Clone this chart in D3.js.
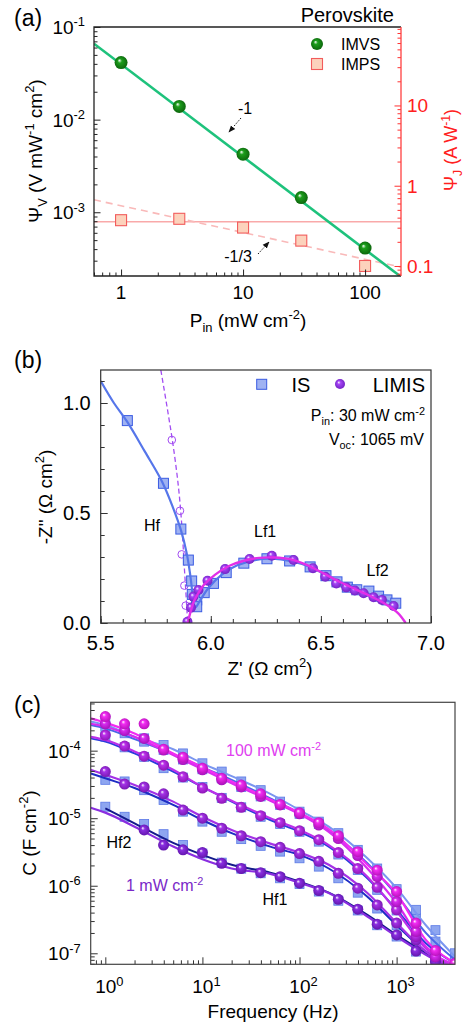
<!DOCTYPE html>
<html>
<head>
<meta charset="utf-8">
<script src="https://cdn.jsdelivr.net/npm/d3@7"></script>
<style>
  body { margin: 0; background: #fff; }
  svg text { font-family: "Liberation Sans", Arial, sans-serif; }
</style>
</head>
<body>
<svg id="fig" width="465" height="1028"></svg>
<script>
// ---------- panel (a) data ----------
const pinA = [1, 3, 10, 30, 100];
const imvsA = [0.0413, 0.0139, 0.00424, 0.00144, 0.00041];
const impsA = [0.372, 0.387, 0.301, 0.207, 0.100];
const imvsFitX = [0.6, 197];
const imvsFitY = [0.066, 0.000201];
const impsFlatX = [0.6, 197];
const impsFlatY = [0.355, 0.355];
const impsDashX = [0.6, 197];
const impsDashY = [0.668, 0.0967];

// ---------- panel (b) data ----------
const isZr = [5.621, 5.785, 5.864, 5.898, 5.913, 5.916, 5.936, 5.936, 5.97, 6.012, 6.07, 6.150, 6.255, 6.358, 6.451, 6.523, 6.573, 6.62, 6.663, 6.718, 6.762, 6.80, 6.84];
const isZi = [0.920, 0.635, 0.427, 0.286, 0.191, 0.130, 0.105, 0.074, 0.138, 0.18, 0.229, 0.272, 0.292, 0.282, 0.255, 0.215, 0.187, 0.163, 0.151, 0.145, 0.122, 0.105, 0.09];
const limisZr = [5.894, 5.91, 5.921, 5.944, 5.985, 6.065, 6.176, 6.277, 6.376, 6.464, 6.52, 6.57, 6.615, 6.654, 6.694, 6.739, 6.777, 6.83];
const limisZi = [0.006, 0.07, 0.12, 0.15, 0.192, 0.245, 0.291, 0.306, 0.286, 0.249, 0.21, 0.18, 0.162, 0.148, 0.135, 0.117, 0.105, 0.077];
const hfZr = [5.823, 5.86, 5.868, 5.88, 5.886, 5.894];
const hfZi = [0.832, 0.51, 0.312, 0.17, 0.079, 0.006];
const hfFitZr = [5.773, 5.80, 5.83, 5.855, 5.87, 5.88, 5.888, 5.895];
const hfFitZi = [1.15, 0.99, 0.80, 0.60, 0.42, 0.25, 0.12, 0.0];
const isFitZr = [5.5, 5.56, 5.62, 5.70, 5.78, 5.83, 5.865, 5.89, 5.905, 5.915, 5.922, 5.93, 5.95, 5.99, 6.05, 6.12, 6.2, 6.28, 6.36, 6.45, 6.53, 6.62, 6.7, 6.78, 6.84];
const isFitZi = [1.10, 1.0, 0.915, 0.78, 0.64, 0.52, 0.42, 0.32, 0.23, 0.15, 0.09, 0.07, 0.1, 0.16, 0.22, 0.262, 0.286, 0.292, 0.282, 0.255, 0.215, 0.17, 0.14, 0.11, 0.085];
const limisFitZr = [5.895, 5.905, 5.92, 5.94, 5.97, 6.02, 6.08, 6.15, 6.22, 6.29, 6.36, 6.43, 6.5, 6.58, 6.66, 6.74, 6.8, 6.85, 6.885];
const limisFitZi = [0.0, 0.04, 0.09, 0.13, 0.175, 0.22, 0.258, 0.283, 0.296, 0.298, 0.29, 0.266, 0.232, 0.19, 0.152, 0.115, 0.082, 0.045, 0.0];

// ---------- panel (c) data ----------
const freqC = [1, 1.58, 2.51, 3.98, 6.31, 10, 15.8, 25.1, 39.8, 63.1, 100, 158, 251, 398, 631, 1000, 1585, 2512, 3981];
const intensities = ['1', '3', '10', '30', '100'];
// LIMIS (spheres), F cm-2
const limis1 = [null, null, 6.7e-6, 4.0e-6, 3.4e-6, 3.1e-6, 2.15e-6, 1.8e-6, 1.56e-6, 1.36e-6, 1.09e-6, 8.5e-7, 6.3e-7, 4.5e-7, 2.7e-7, 1.87e-7, 1.08e-7, 7.5e-8, null];
const limis3 = [4.9e-5, 3.2e-5, 2.9e-5, 2.3e-5, 1.32e-5, 1.0e-5, 7.1e-6, 5.5e-6, 4.5e-6, 3.7e-6, 3.0e-6, 2.3e-6, 1.53e-6, 9.2e-7, 5.2e-7, 2.8e-7, 1.57e-7, 8.9e-8, 6.0e-8];
const limis10 = [1.7e-4, 1.17e-4, 8.3e-5, 6.1e-5, 4.1e-5, 2.8e-5, 1.97e-5, 1.45e-5, 1.09e-5, 8.6e-6, 6.5e-6, 4.8e-6, 3.1e-6, 1.8e-6, 9.5e-7, 4.4e-7, 1.77e-7, 8.9e-8, 5.7e-8];
const limis30 = [2.5e-4, 1.98e-4, 1.52e-4, 1.02e-4, 7.4e-5, 5.2e-5, 3.7e-5, 2.9e-5, 2.1e-5, 1.57e-5, 1.16e-5, 7.9e-6, 5.0e-6, 2.8e-6, 1.36e-6, 5.8e-7, 2.1e-7, 8.9e-8, 6.4e-8];
const limis100 = [3.2e-4, 2.5e-4, 2.5e-4, 1.05e-4, 8.0e-5, 5.5e-5, 3.9e-5, 3.1e-5, 2.3e-5, 1.6e-5, 1.2e-5, 8.6e-6, 5.5e-6, 3.2e-6, 1.7e-6, 8.2e-7, 2.8e-7, 1.1e-7, 7.1e-8];
// IS (squares), F cm-2
const is1 = [1.48e-5, 1.05e-5, 8.2e-6, 5.8e-6, 4.0e-6, 3.0e-6, 2.2e-6, 1.79e-6, 1.53e-6, 1.29e-6, 1.06e-6, 8.2e-7, 6.0e-7, 4.3e-7, 2.6e-7, 1.77e-7, 1.06e-7, 7.8e-8, 6.0e-8];
const is3 = [3.7e-5, 3.5e-5, 2.6e-5, 1.86e-5, 1.25e-5, 8.9e-6, 6.3e-6, 4.9e-6, 3.9e-6, 3.2e-6, 2.55e-6, 1.92e-6, 1.29e-6, 7.9e-7, 4.6e-7, 2.6e-7, 1.49e-7, 8.9e-8, 6.4e-8];
const is10 = [1.61e-4, 1.12e-4, 8.1e-5, 5.5e-5, 4.0e-5, 2.9e-5, 2.0e-5, 1.45e-5, 1.05e-5, 8.2e-6, 6.3e-6, 4.5e-6, 2.9e-6, 1.71e-6, 8.7e-7, 4.3e-7, 2.0e-7, 1.0e-7, 7.1e-8];
const is30 = [2.27e-4, 1.81e-4, 1.36e-4, 1.02e-4, 7.4e-5, 5.3e-5, 3.9e-5, 2.9e-5, 2.1e-5, 1.57e-5, 1.16e-5, 8.2e-6, 5.3e-6, 3.0e-6, 1.53e-6, 7.3e-7, 3.3e-7, 1.49e-7, 8.0e-8];
const is100 = [2.85e-4, 2.27e-4, 1.52e-4, 1.21e-4, 9.1e-5, 6.5e-5, 4.9e-5, 3.5e-5, 2.6e-5, 1.76e-5, 1.25e-5, 8.9e-6, 6.0e-6, 3.4e-6, 1.8e-6, 8.9e-7, 4.4e-7, 2.2e-7, 1.0e-7];
// fit curves
const fitF = [0.707, 1, 2, 5, 10, 20, 50, 100, 200, 500, 1000, 2000, 4000];
const limisFit1 = [1.43e-5, 1.21e-5, 7.5e-6, 3.8e-6, 2.47e-6, 1.8e-6, 1.5e-6, 1.11e-6, 7.8e-7, 3.5e-7, 1.77e-7, 9.5e-8, 5.7e-8];
const limisFit3 = [5.2e-5, 4.4e-5, 3.1e-5, 1.76e-5, 1.05e-5, 6.7e-6, 4.2e-6, 3.1e-6, 2.04e-6, 7.8e-7, 2.8e-7, 1.06e-7, 6.0e-8];
const limisFit10 = [1.6e-4, 1.44e-4, 9.7e-5, 5.2e-5, 2.9e-5, 1.82e-5, 1.0e-5, 6.7e-6, 4.0e-6, 1.36e-6, 4.2e-7, 1.18e-7, 6.3e-8];
const limisFit30 = [2.5e-4, 2.26e-4, 1.6e-4, 8.6e-5, 5.3e-5, 3.3e-5, 1.82e-5, 1.15e-5, 6.3e-6, 1.8e-6, 5.5e-7, 1.26e-7, 6.7e-8];
const limisFit100 = [3.0e-4, 2.6e-4, 1.8e-4, 9.1e-5, 5.7e-5, 3.5e-5, 1.9e-5, 1.2e-5, 6.9e-6, 2.05e-6, 7.6e-7, 1.58e-7, 7.1e-8];
const isFit1 = [null, 1.4e-5, 8.4e-6, 4.3e-6, 2.86e-6, 2.04e-6, 1.56e-6, 1.15e-6, 7.9e-7, 3.7e-7, 1.87e-7, 1.0e-7, 6.0e-8];
const isFit3 = [4.6e-5, 3.9e-5, 2.8e-5, 1.57e-5, 9.4e-6, 6.0e-6, 3.8e-6, 2.86e-6, 1.8e-6, 6.9e-7, 2.6e-7, 1.06e-7, 6.3e-8];
const isFit10 = [1.52e-4, 1.36e-4, 9.1e-5, 4.9e-5, 2.9e-5, 1.76e-5, 9.4e-6, 6.3e-6, 3.8e-6, 1.29e-6, 4.4e-7, 1.41e-7, 7.1e-8];
const isFit30 = [2.4e-4, 2.14e-4, 1.48e-4, 8.9e-5, 5.7e-5, 3.7e-5, 1.97e-5, 1.18e-5, 6.5e-6, 2.15e-6, 7.3e-7, 2.0e-7, 8.0e-8];
const isFit100 = [2.7e-4, 2.4e-4, 1.6e-4, 1.05e-4, 6.5e-5, 4.2e-5, 2.3e-5, 1.32e-5, 7.5e-6, 2.55e-6, 9.2e-7, 2.6e-7, 8.9e-8];

const limisC = [limis1, limis3, limis10, limis30, limis100];
const isC = [is1, is3, is10, is30, is100];
const limisFitC = [limisFit1, limisFit3, limisFit10, limisFit30, limisFit100];
const isFitC = [isFit1, isFit3, isFit10, isFit30, isFit100];

// colours per intensity (1 -> 100 mW cm-2)
const limisColors = ['#8a2ee0', '#a432e6', '#bb30ea', '#d82cf0', '#f22cf2'];
const limisDark = ['#5e14a8', '#7416ac', '#8814b0', '#a010b4', '#b410b8'];
const isLineColors = ['#141a8c', '#1e2cc4', '#2a3ddc', '#4a66e8', '#7a96f0'];

const svg = d3.select('#fig');
const defs = svg.append('defs');

// ---------- helpers ----------
function rich(parent, x, y, parts, fs, anchor, fill, rotate) {
    const t = parent.append('text')
        .attr('font-size', fs)
        .attr('text-anchor', anchor || 'start')
        .attr('fill', fill || '#000');
    if (rotate) t.attr('transform', `translate(${x},${y}) rotate(${rotate})`);
    else t.attr('x', x).attr('y', y);
    let shift = 0;
    parts.forEach(p => {
        const txt = typeof p === 'string' ? p : p[0];
        const kind = typeof p === 'string' ? 'n' : p[1];
        const target = kind === 'sup' ? -fs * 0.4 : kind === 'sub' ? fs * 0.25 : 0;
        const ts = t.append('tspan').attr('dy', target - shift).text(txt);
        if (kind !== 'n') ts.attr('font-size', fs * 0.68);
        shift = target;
    });
    return t;
}

function ballGrad(id, base, dark) {
    const g = defs.append('radialGradient').attr('id', id)
        .attr('cx', '50%').attr('cy', '50%').attr('r', '55%')
        .attr('fx', '36%').attr('fy', '32%');
    g.append('stop').attr('offset', '0%').attr('stop-color', '#ffffff');
    g.append('stop').attr('offset', '30%').attr('stop-color', base);
    g.append('stop').attr('offset', '100%').attr('stop-color', dark);
}

function arrowMarker(id) {
    defs.append('marker').attr('id', id)
        .attr('viewBox', '0 0 10 10').attr('refX', 9).attr('refY', 5)
        .attr('markerWidth', 7).attr('markerHeight', 7).attr('orient', 'auto')
        .append('path').attr('d', 'M0,1 L10,5 L0,9 Z').attr('fill', '#111');
}

function tickAxis(g, axisFn, scale, values, size, color, tx, ty) {
    g.append('g')
        .attr('transform', `translate(${tx},${ty})`)
        .call(axisFn(scale).tickValues(values).tickSize(size).tickFormat(''))
        .call(s => s.select('.domain').remove())
        .selectAll('line').attr('stroke', color).attr('stroke-width', 1);
}

const isMajor = v => Math.abs(Math.log10(v) - Math.round(Math.log10(v))) < 1e-6;

ballGrad('ballGreen', '#1c9e1c', '#0b610b');
ballGrad('ballPurple', '#a545f5', '#6f1fc0');
limisColors.forEach((c, i) => ballGrad('ballC' + i, c, limisDark[i]));
arrowMarker('arrowHead');

// =============== panel (a) ===============
(function panelA() {
    const L = 94, R = 401, T = 27, B = 276;
    const g = svg.append('g');
    const x = d3.scaleLog().domain([0.6, 197]).range([L, R]);
    const yL = d3.scaleLog().domain([2.05e-4, 0.1]).range([B, T]);
    const yR = d3.scaleLog().domain([0.075, 95]).range([B, T]);

    const clip = defs.append('clipPath').attr('id', 'clipA');
    clip.append('rect').attr('x', L).attr('y', T).attr('width', R - L).attr('height', B - T);
    const plot = g.append('g').attr('clip-path', 'url(#clipA)');

    // IMPS lines (right axis)
    const lineR = d3.line().x(d => x(d[0])).y(d => yR(d[1]));
    plot.append('path').attr('d', lineR(d3.zip(impsFlatX, impsFlatY)))
        .attr('fill', 'none').attr('stroke', '#f9a9a9').attr('stroke-width', 1.4);
    plot.append('path').attr('d', lineR(d3.zip(impsDashX, impsDashY)))
        .attr('fill', 'none').attr('stroke', '#f9b9b9').attr('stroke-width', 1.6)
        .attr('stroke-dasharray', '7,5');
    // IMVS line
    const lineL = d3.line().x(d => x(d[0])).y(d => yL(d[1]));
    plot.append('path').attr('d', lineL(d3.zip(imvsFitX, imvsFitY)))
        .attr('fill', 'none').attr('stroke', '#1ec27c').attr('stroke-width', 2.6);

    // IMPS squares
    g.selectAll('rect.imps').data(d3.zip(pinA, impsA)).enter().append('rect')
        .attr('x', d => x(d[0]) - 5.5).attr('y', d => yR(d[1]) - 5.5)
        .attr('width', 11).attr('height', 11)
        .attr('fill', '#fcd2bc').attr('stroke', '#f25c5c').attr('stroke-width', 1.1);
    // IMVS balls
    g.selectAll('circle.imvs').data(d3.zip(pinA, imvsA)).enter().append('circle')
        .attr('cx', d => x(d[0])).attr('cy', d => yL(d[1])).attr('r', 6.5)
        .attr('fill', 'url(#ballGreen)');

    // ticks
    const xt = x.ticks();
    tickAxis(g, d3.axisBottom, x, xt.filter(v => !isMajor(v)), -3.5, '#222', 0, B);
    tickAxis(g, d3.axisBottom, x, xt.filter(isMajor), -6.5, '#222', 0, B);
    const ylt = yL.ticks();
    tickAxis(g, d3.axisLeft, yL, ylt.filter(v => !isMajor(v)), -3.5, '#222', L, 0);
    tickAxis(g, d3.axisLeft, yL, ylt.filter(isMajor), -6.5, '#222', L, 0);
    const yrt = yR.ticks();
    tickAxis(g, d3.axisRight, yR, yrt.filter(v => !isMajor(v)), -3.5, '#f33', R, 0);
    tickAxis(g, d3.axisRight, yR, yrt.filter(isMajor), -6.5, '#f33', R, 0);

    // frame
    g.append('path').attr('d', `M${R},${T} L${L},${T} L${L},${B} L${R},${B}`)
        .attr('fill', 'none').attr('stroke', '#222').attr('stroke-width', 1.3);
    g.append('line').attr('x1', R).attr('x2', R).attr('y1', T).attr('y2', B)
        .attr('stroke', '#ff4040').attr('stroke-width', 1.3);

    // tick labels
    xt.filter(isMajor).forEach(v => {
        g.append('text').attr('x', x(v)).attr('y', B + 23).attr('text-anchor', 'middle')
            .attr('font-size', 19).text(d3.format('~g')(v));
    });
    ylt.filter(isMajor).forEach(v => {
        rich(g, L - 9, yL(v) + 7, ['10', [String(Math.round(Math.log10(v))), 'sup']], 19, 'end');
    });
    yrt.filter(isMajor).forEach(v => {
        g.append('text').attr('x', R + 6).attr('y', yR(v) + 7).attr('font-size', 19)
            .attr('fill', '#ff2020').text(d3.format('~g')(v));
    });

    // axis titles
    rich(g, 248, 327, ['P', ['in', 'sub'], ' (mW cm', ['-2', 'sup'], ')'], 19, 'middle');
    rich(g, 42, 151, ['Ψ', ['V', 'sub'], ' (V mW', ['-1', 'sup'], ' cm', ['2', 'sup'], ')'], 19, 'middle', '#000', -90);
    rich(g, 457, 150, ['Ψ', ['J', 'sub'], ' (A W', ['-1', 'sup'], ')'], 18, 'middle', '#ff2020', -90);

    // legend and labels
    g.append('text').attr('x', 394).attr('y', 22).attr('text-anchor', 'end')
        .attr('font-size', 20).text('Perovskite');
    g.append('circle').attr('cx', 317).attr('cy', 44).attr('r', 6).attr('fill', 'url(#ballGreen)');
    g.append('text').attr('x', 341).attr('y', 50).attr('font-size', 16).text('IMVS');
    g.append('rect').attr('x', 311.5).attr('y', 58.5).attr('width', 11).attr('height', 11)
        .attr('fill', '#fcd2bc').attr('stroke', '#f25c5c').attr('stroke-width', 1.1);
    g.append('text').attr('x', 341).attr('y', 70).attr('font-size', 16).text('IMPS');

    g.append('text').attr('x', 245).attr('y', 114).attr('text-anchor', 'middle')
        .attr('font-size', 16).text('-1');
    g.append('line').attr('x1', 241).attr('y1', 118).attr('x2', 229).attr('y2', 132)
        .attr('stroke', '#111').attr('stroke-width', 1).attr('stroke-dasharray', '1.5,1.5')
        .attr('marker-end', 'url(#arrowHead)');
    g.append('text').attr('x', 238).attr('y', 262).attr('text-anchor', 'middle')
        .attr('font-size', 16).text('-1/3');
    g.append('line').attr('x1', 258).attr('y1', 254).attr('x2', 269).attr('y2', 242)
        .attr('stroke', '#111').attr('stroke-width', 1).attr('stroke-dasharray', '1.5,1.5')
        .attr('marker-end', 'url(#arrowHead)');

    g.append('text').attr('x', 14).attr('y', 26).attr('font-size', 23).text('(a)');
})();

// =============== panel (b) ===============
(function panelB() {
    const L = 100.7, R = 431, T = 370, B = 623;
    const g = svg.append('g');
    const x = d3.scaleLinear().domain([5.5, 7.0]).range([L, R]);
    const y = d3.scaleLinear().domain([0, 1.15]).range([B, T]);

    const clip = defs.append('clipPath').attr('id', 'clipB');
    clip.append('rect').attr('x', L).attr('y', T).attr('width', R - L).attr('height', B - T);
    const plot = g.append('g').attr('clip-path', 'url(#clipB)');
    const line = d3.line().x(d => x(d[0])).y(d => y(d[1])).curve(d3.curveMonotoneY);
    const lineX = d3.line().x(d => x(d[0])).y(d => y(d[1])).curve(d3.curveCatmullRom);

    // dashed HF LIMIS fit + open circles
    plot.append('path').attr('d', line(d3.zip(hfFitZr, hfFitZi)))
        .attr('fill', 'none').attr('stroke', '#a24cf2').attr('stroke-width', 1.3)
        .attr('stroke-dasharray', '5,3');
    plot.selectAll('circle.hf').data(d3.zip(hfZr, hfZi)).enter().append('circle')
        .attr('cx', d => x(d[0])).attr('cy', d => y(d[1])).attr('r', 3.8)
        .attr('fill', 'none').attr('stroke', '#a24cf2').attr('stroke-width', 1);

    // IS squares
    plot.selectAll('rect.is').data(d3.zip(isZr, isZi)).enter().append('rect')
        .attr('x', d => x(d[0]) - 5).attr('y', d => y(d[1]) - 5)
        .attr('width', 10).attr('height', 10)
        .attr('fill', '#9fb2f2').attr('stroke', '#3a5be2').attr('stroke-width', 1);
    // IS fit
    plot.append('path').attr('d', lineX(d3.zip(isFitZr, isFitZi)))
        .attr('fill', 'none').attr('stroke', '#5676ea').attr('stroke-width', 2.2);
    // LIMIS balls + fit
    plot.selectAll('circle.li').data(d3.zip(limisZr, limisZi)).enter().append('circle')
        .attr('cx', d => x(d[0])).attr('cy', d => y(d[1])).attr('r', 5)
        .attr('fill', 'url(#ballPurple)');
    plot.append('path').attr('d', lineX(d3.zip(limisFitZr, limisFitZi)))
        .attr('fill', 'none').attr('stroke', '#e22ee8').attr('stroke-width', 2.4);

    // ticks
    const xMinor = d3.range(55, 71).map(v => v / 10);
    const xMajor = [5.5, 6.0, 6.5, 7.0];
    tickAxis(g, d3.axisBottom, x, xMinor, -4, '#333', 0, B);
    tickAxis(g, d3.axisBottom, x, xMajor, -7, '#333', 0, B);
    const yMinor = d3.range(0, 12).map(v => v / 10);
    const yMajor = [0, 0.5, 1.0];
    tickAxis(g, d3.axisLeft, y, yMinor, -4, '#333', L, 0);
    tickAxis(g, d3.axisLeft, y, yMajor, -7, '#333', L, 0);
    g.append('rect').attr('x', L).attr('y', T).attr('width', R - L).attr('height', B - T)
        .attr('fill', 'none').attr('stroke', '#333').attr('stroke-width', 1.2);

    xMajor.forEach(v => g.append('text').attr('x', x(v)).attr('y', B + 27)
        .attr('text-anchor', 'middle').attr('font-size', 20).text(v.toFixed(1)));
    yMajor.forEach(v => g.append('text').attr('x', L - 10).attr('y', y(v) + 7)
        .attr('text-anchor', 'end').attr('font-size', 20).text(v.toFixed(1)));

    rich(g, 270, 675, ["Z' (Ω cm", ['2', 'sup'], ')'], 19, 'middle');
    rich(g, 52, 497, ['-Z" (Ω cm', ['2', 'sup'], ')'], 19, 'middle', '#000', -90);

    // legend
    g.append('rect').attr('x', 256.7).attr('y', 379.3).attr('width', 10).attr('height', 10)
        .attr('fill', '#9fb2f2').attr('stroke', '#3a5be2').attr('stroke-width', 1);
    g.append('text').attr('x', 291.5).attr('y', 391.5).attr('font-size', 20).text('IS');
    g.append('circle').attr('cx', 340).attr('cy', 384).attr('r', 5).attr('fill', 'url(#ballPurple)');
    g.append('text').attr('x', 425).attr('y', 391.5).attr('text-anchor', 'end')
        .attr('font-size', 20).text('LIMIS');
    rich(g, 425, 421, ['P', ['in', 'sub'], ': 30 mW cm', ['-2', 'sup']], 16, 'end');
    rich(g, 424, 445, ['V', ['oc', 'sub'], ': 1065 mV'], 16, 'end');

    g.append('text').attr('x', 144).attr('y', 531).attr('font-size', 16).text('Hf');
    g.append('text').attr('x', 254).attr('y', 537).attr('font-size', 16).text('Lf1');
    g.append('text').attr('x', 366.5).attr('y', 576).attr('font-size', 16).text('Lf2');

    g.append('text').attr('x', 14).attr('y', 368).attr('font-size', 23).text('(b)');
})();

// =============== panel (c) ===============
(function panelC() {
    const L = 90.7, R = 455, T = 702.3, B = 964.3;
    const g = svg.append('g');
    const x = d3.scaleLog().domain([0.707, 3993]).range([L, R]);
    const y = d3.scaleLog().domain([6.87e-8, 5.2e-4]).range([B, T]);

    const clip = defs.append('clipPath').attr('id', 'clipC');
    clip.append('rect').attr('x', L).attr('y', T).attr('width', R - L).attr('height', B - T);
    const plot = g.append('g').attr('clip-path', 'url(#clipC)');
    const line = d3.line().defined(d => d[1] != null)
        .x(d => x(d[0])).y(d => y(d[1])).curve(d3.curveMonotoneX);

    // IS squares
    isC.forEach((arr, i) => {
        plot.selectAll('rect.is' + i).data(d3.zip(freqC, arr).filter(d => d[1] != null)).enter()
            .append('rect')
            .attr('x', d => x(d[0]) - 4.5).attr('y', d => y(d[1]) - 4.5)
            .attr('width', 9).attr('height', 9)
            .attr('fill', '#8ea6f0').attr('stroke', '#5a78e6').attr('stroke-width', 0.8);
    });
    // IS fits
    isFitC.forEach((arr, i) => {
        plot.append('path').attr('d', line(d3.zip(fitF, arr)))
            .attr('fill', 'none').attr('stroke', isLineColors[i]).attr('stroke-width', 2);
    });
    // LIMIS fits
    limisFitC.forEach((arr, i) => {
        plot.append('path').attr('d', line(d3.zip(fitF, arr)))
            .attr('fill', 'none').attr('stroke', limisColors[i]).attr('stroke-width', 2.2);
    });
    // LIMIS balls
    limisC.forEach((arr, i) => {
        plot.selectAll('circle.li' + i).data(d3.zip(freqC, arr).filter(d => d[1] != null)).enter()
            .append('circle')
            .attr('cx', d => x(d[0])).attr('cy', d => y(d[1])).attr('r', 5.5)
            .attr('fill', `url(#ballC${i})`);
    });

    // ticks
    const xt = x.ticks();
    tickAxis(g, d3.axisBottom, x, xt.filter(v => !isMajor(v)), -4, '#333', 0, B);
    tickAxis(g, d3.axisBottom, x, xt.filter(isMajor), -7, '#333', 0, B);
    const yt = y.ticks();
    tickAxis(g, d3.axisLeft, y, yt.filter(v => !isMajor(v)), -4, '#333', L, 0);
    tickAxis(g, d3.axisLeft, y, yt.filter(isMajor), -7, '#333', L, 0);
    g.append('rect').attr('x', L).attr('y', T).attr('width', R - L).attr('height', B - T)
        .attr('fill', 'none').attr('stroke', '#444').attr('stroke-width', 1.2);

    xt.filter(isMajor).forEach(v => {
        rich(g, x(v) + 4, B + 29, ['10', [String(Math.round(Math.log10(v))), 'sup']], 19, 'middle');
    });
    yt.filter(isMajor).forEach(v => {
        rich(g, L - 10, y(v) + 7, ['10', [String(Math.round(Math.log10(v))), 'sup']], 19, 'end');
    });

    g.append('text').attr('x', 273).attr('y', 1018).attr('text-anchor', 'middle')
        .attr('font-size', 19).text('Frequency (Hz)');
    rich(g, 36, 833, ['C (F cm', ['-2', 'sup'], ')'], 19, 'middle', '#000', -90);

    rich(g, 226, 756, ['100 mW cm', ['-2', 'sup']], 16, 'start', '#e040f0');
    rich(g, 126, 891, ['1 mW cm', ['-2', 'sup']], 16, 'start', '#7a28c8');
    g.append('text').attr('x', 106.5).attr('y', 848).attr('font-size', 16).text('Hf2');
    g.append('text').attr('x', 262.5).attr('y', 905).attr('font-size', 16).text('Hf1');

    g.append('text').attr('x', 14).attr('y', 713).attr('font-size', 23).text('(c)');
})();
</script>
</body>
</html>
